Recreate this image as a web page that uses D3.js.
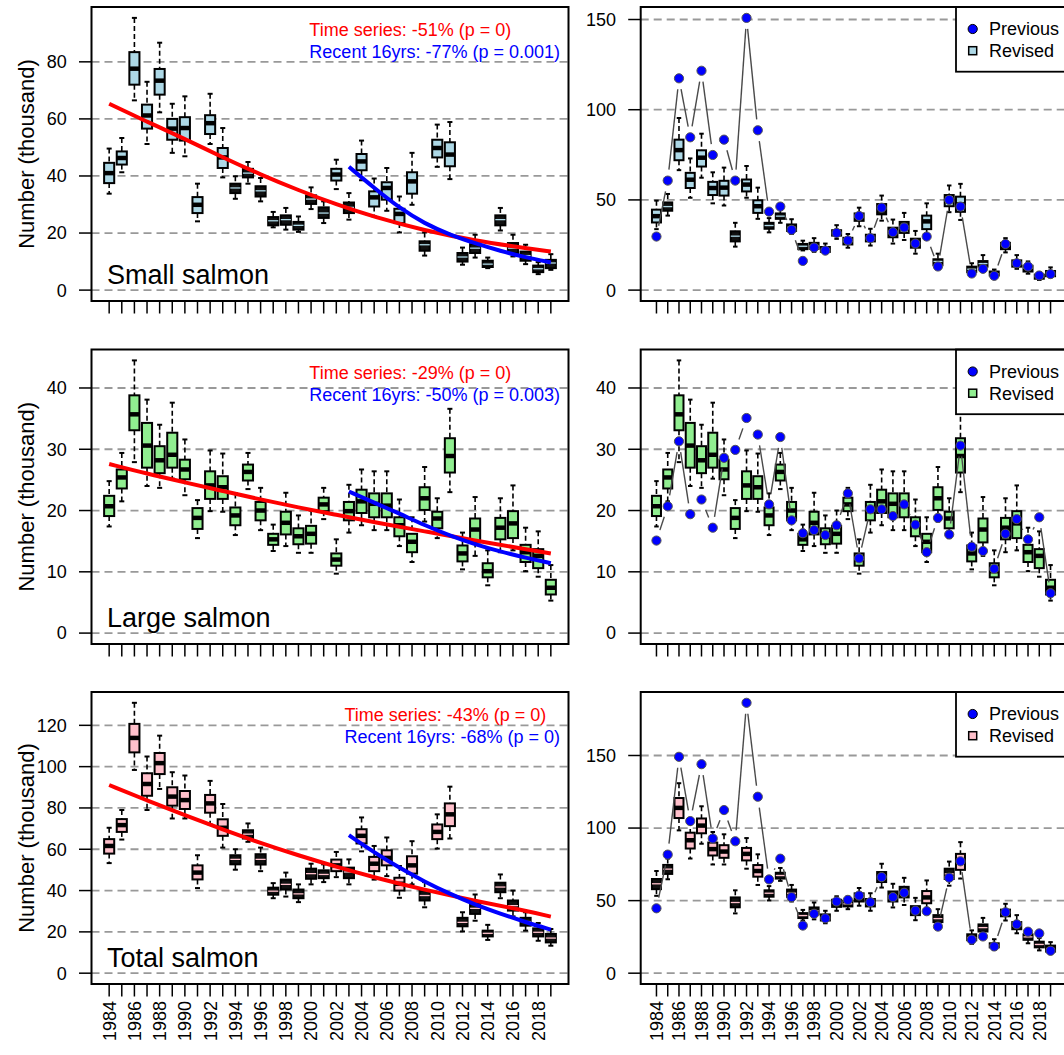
<!DOCTYPE html>
<html><head><meta charset="utf-8">
<script src="https://cdn.jsdelivr.net/npm/d3@7"></script>
<style>body{margin:0;background:#fff} text{font-family:"Liberation Sans",Arial,sans-serif}</style>
</head><body><svg id="c" width="1064" height="1055"></svg>
<script>
const years = [1984,1985,1986,1987,1988,1989,1990,1991,1992,1993,1994,1995,1996,1997,1998,1999,2000,2001,2002,2003,2004,2005,2006,2007,2008,2009,2010,2011,2012,2013,2014,2015,2016,2017,2018,2019];
const labelYears = [1984,1986,1988,1990,1992,1994,1996,1998,2000,2002,2004,2006,2008,2010,2012,2014,2016,2018];

// Small salmon
const smallLo  = [33.8,41.3,66.5,51.2,62.3,48.1,46.9,24.1,51.2,39.5,32.0,37.3,31.1,22.0,21.2,20.4,28.4,23.5,35.4,24.7,38.5,25.8,27.8,20.2,29.9,12.1,43.2,38.9,8.9,11.4,7.7,20.9,11.8,9.1,5.6,7.1];
const smallQ1  = [37.5,44.0,72.0,56.6,68.5,52.7,52.4,27.0,54.7,42.8,34.0,39.5,32.8,22.7,22.9,21.2,30.2,25.3,38.4,27.0,42.0,29.3,31.7,23.5,33.8,13.8,46.5,43.4,10.0,13.0,8.1,22.7,13.0,10.3,6.3,7.7];
const smallMed = [41.0,46.3,77.6,61.2,73.4,56.6,56.8,29.9,58.5,46.5,35.8,41.0,34.8,24.3,24.7,22.7,31.9,27.0,40.5,29.0,45.1,32.5,35.8,26.7,38.1,15.9,49.8,47.5,11.6,14.7,9.1,24.7,14.7,12.1,7.5,9.5];
const smallQ3  = [44.6,48.6,83.4,65.0,77.5,60.0,60.6,32.6,61.3,49.8,37.3,42.5,36.4,25.6,26.2,23.9,33.2,29.0,42.5,30.7,47.7,34.6,37.8,28.5,41.3,17.1,52.7,51.8,13.0,16.1,10.3,26.2,16.5,13.5,8.6,10.6];
const smallHi  = [49.6,53.3,95.4,73.0,86.7,65.3,67.9,37.3,68.8,56.8,39.9,44.9,39.3,27.4,28.8,25.8,36.0,31.1,45.7,34.0,52.4,39.1,42.8,32.8,48.1,20.2,58.0,58.9,14.9,19.4,11.4,28.8,19.4,15.9,9.8,12.6];
const smallPrev= [29.7,60.7,117.4,84.7,121.6,74.9,83.4,60.7,150.9,88.6,43.5,46.3,33.4,16.2,23.6,21.9,31.7,27.5,41.1,28.8,45.7,32.1,34.7,25.8,29.7,13.1,50.0,46.3,9.2,11.8,7.9,25.6,14.9,13.1,8.1,8.9];
const smallRedYears = [1984,1987,1990,1993,1996,1999,2002,2005,2009,2013,2017,2019];
const smallRedVals  = [65.3,59.0,53.0,46.5,40.5,35.0,30.0,25.6,20.9,17.3,14.7,13.5];
const smallBlueYears = [2003,2005,2007,2009,2011,2013,2015,2017,2019];
const smallBlueVals  = [43.2,35.8,28.8,23.3,19.4,16.4,13.7,11.5,9.7];
const smallTexts = ["Time series: -51% (p = 0)","Recent 16yrs: -77% (p = 0.001)"];
const smallTicksL = [0,20,40,60,80];
const smallTicksR = [0,50,100,150];

// Large salmon
const largeLo  = [17.4,21.5,27.9,24.0,23.7,25.2,22.5,15.5,19.9,19.8,16.0,23.5,16.8,13.4,14.2,13.1,13.1,18.6,9.7,16.4,17.6,16.8,16.8,14.2,11.6,18.2,15.5,23.0,10.4,12.6,7.8,13.2,13.5,10.1,9.2,5.3];
const largeQ1  = [19.1,23.6,33.1,27.0,26.1,27.0,25.1,17.0,21.9,21.9,17.6,24.9,18.4,14.4,16.1,14.5,14.6,19.9,11.0,18.4,19.6,18.9,18.9,15.8,13.2,20.1,17.1,26.2,11.7,14.8,9.1,15.3,15.5,11.6,10.6,6.3];
const largeMed = [20.7,25.4,35.7,30.6,28.2,29.1,26.7,18.8,24.1,23.8,19.2,26.3,20.0,15.3,18.0,15.8,16.2,21.0,12.0,19.9,21.5,21.1,20.8,17.6,14.9,22.0,18.7,28.9,13.0,16.9,10.1,17.2,17.9,13.2,12.6,7.4];
const largeQ3  = [22.4,26.7,38.8,34.3,30.5,32.7,28.3,20.4,26.4,25.6,20.5,27.5,21.4,16.2,19.8,17.1,17.5,22.1,13.0,21.4,23.4,22.8,22.8,18.9,16.2,23.8,19.8,31.8,14.3,18.7,11.4,18.8,19.9,14.4,13.7,8.7];
const largeHi  = [24.8,29.4,44.5,38.1,34.0,37.6,31.6,21.7,29.8,29.3,22.8,29.4,23.7,17.7,22.9,19.2,20.0,23.7,15.3,24.2,26.7,26.4,26.4,21.8,18.9,27.1,22.0,36.6,16.4,22.2,13.5,22.0,24.1,17.2,16.6,11.1];
const largePrev= [15.1,20.7,31.3,19.4,21.8,17.2,28.6,29.9,35.1,32.4,21.0,32.0,18.4,16.3,16.8,16.0,17.6,22.8,12.2,20.2,20.2,19.1,21.0,17.7,13.2,18.8,16.1,30.6,14.1,13.4,10.5,16.2,18.6,15.3,18.9,6.5];
const largeRedYears = [1984,1987,1990,1993,1996,1999,2002,2005,2009,2013,2017,2019];
const largeRedVals  = [27.6,26.0,24.6,23.2,21.8,20.5,19.3,18.1,16.6,15.1,13.7,13.0];
const largeBlueYears = [2003,2005,2007,2009,2011,2013,2015,2017,2019];
const largeBlueVals  = [23.1,21.3,19.5,17.6,15.9,14.5,13.3,12.3,11.4];
const largeTexts = ["Time series: -29% (p = 0)","Recent 16yrs: -50% (p = 0.003)"];
const largeTicksL = [0,10,20,30,40];
const largeTicksR = [0,10,20,30,40];

// Total salmon
const totalLo  = [53.3,64.7,98.4,79.0,89.2,74.9,74.9,41.2,72.0,60.8,50.1,63.6,49.4,36.3,37.1,34.4,43.0,44.1,46.5,43.0,59.0,45.3,47.0,36.5,43.0,31.9,60.3,65.2,20.2,25.4,16.1,36.3,27.5,20.6,15.7,13.3];
const totalQ1  = [57.9,68.4,106.9,85.9,96.4,81.1,79.5,45.4,77.7,66.5,52.7,65.2,52.6,38.0,40.5,36.3,45.7,46.0,49.4,46.0,62.8,49.4,52.2,40.0,48.2,35.2,64.9,71.2,22.7,28.7,17.8,39.2,30.3,23.0,17.8,14.9];
const totalMed = [61.6,71.7,113.9,91.6,101.7,85.5,83.8,48.7,82.2,70.4,55.1,67.3,55.1,39.7,43.0,38.4,48.2,47.8,52.2,49.0,66.5,53.0,55.8,43.3,52.2,37.6,68.4,76.9,24.6,31.4,19.3,41.7,32.7,25.0,19.8,17.0];
const totalQ3  = [64.9,74.6,120.7,96.8,106.6,90.0,88.2,52.2,86.3,74.5,57.1,69.2,57.6,41.4,45.3,40.5,50.6,49.8,55.0,51.1,69.7,56.3,59.5,46.2,56.6,40.0,72.0,82.2,26.8,33.6,20.6,43.8,35.2,26.8,21.7,19.0];
const totalHi  = [70.4,79.0,130.9,104.9,115.0,97.3,95.7,57.1,93.1,81.9,60.0,72.5,60.8,43.6,48.7,43.0,53.0,52.7,58.7,55.1,75.4,61.6,65.7,51.9,63.9,44.1,76.9,90.3,29.5,38.1,23.4,47.8,40.0,29.5,24.3,21.4];
const totalPrev= [44.7,81.7,149.1,104.8,144.0,92.8,112.4,90.9,186.3,121.6,64.6,78.9,52.4,32.8,40.9,37.8,49.4,50.5,53.5,48.9,66.2,52.4,55.4,43.1,42.7,32.1,65.8,77.1,23.1,25.3,18.4,42.0,33.7,28.6,27.4,15.4];
const totalRedYears = [1984,1987,1990,1993,1996,1999,2002,2005,2009,2013,2017,2019];
const totalRedVals  = [91.1,83.6,76.5,69.5,63.0,57.0,51.5,46.4,40.3,35.0,30.3,27.4];
const totalBlueYears = [2003,2005,2007,2009,2011,2013,2015,2017,2019];
const totalBlueVals  = [66.8,58.5,51.0,44.3,38.4,33.2,28.8,24.7,21.1];
const totalTexts = ["Time series: -43% (p = 0)","Recent 16yrs: -68% (p = 0)"];
const totalTicksL = [0,20,40,60,80,100,120];
const totalTicksR = [0,50,100,150];

const legendLabels = ["Previous","Revised"];
const yTitle = "Number (thousand)";

const rows = [
  {lo:smallLo,q1:smallQ1,med:smallMed,q3:smallQ3,hi:smallHi,prev:smallPrev,fill:"#ADD8E6",name:"Small salmon",
   red:[smallRedYears,smallRedVals],blue:[smallBlueYears,smallBlueVals],texts:smallTexts,tl:smallTicksL,tr:smallTicksR},
  {lo:largeLo,q1:largeQ1,med:largeMed,q3:largeQ3,hi:largeHi,prev:largePrev,fill:"#90EE90",name:"Large salmon",
   red:[largeRedYears,largeRedVals],blue:[largeBlueYears,largeBlueVals],texts:largeTexts,tl:largeTicksL,tr:largeTicksR},
  {lo:totalLo,q1:totalQ1,med:totalMed,q3:totalQ3,hi:totalHi,prev:totalPrev,fill:"#FFC0CB",name:"Total salmon",
   red:[totalRedYears,totalRedVals],blue:[totalBlueYears,totalBlueVals],texts:totalTexts,tl:totalTicksL,tr:totalTicksR}
];

const svg = d3.select("#c");
svg.append("rect").attr("width",1064).attr("height",1055).attr("fill","#fff");

const rowY = [[7,301],[349.5,644],[692,984]];
const colX = [[91.5,568.5],[640.7,1066.3]];
const FS = 18;

function drawBoxes(g, x, y, s, bw){
  const idx = years.map((d,i)=>i);
  const grp = g.selectAll("g.bx").data(idx).join("g").attr("class","bx");
  grp.each(function(i){
    const G = d3.select(this);
    const cx = x(years[i]);
    const yq1 = y(s.q1[i]), yq3 = y(s.q3[i]), yhi = y(s.hi[i]), ylo = y(s.lo[i]), ym = y(s.med[i]);
    const dark = (yq1 - yq3) < 11;
    G.append("line").attr("x1",cx).attr("x2",cx).attr("y1",yhi).attr("y2",yq3)
      .attr("stroke","#000").attr("stroke-width",1.6).attr("stroke-dasharray","5,3");
    G.append("line").attr("x1",cx).attr("x2",cx).attr("y1",yq1).attr("y2",ylo)
      .attr("stroke","#000").attr("stroke-width",1.6).attr("stroke-dasharray","5,3");
    [yhi,ylo].forEach(v=>G.append("line").attr("x1",cx-bw/4).attr("x2",cx+bw/4).attr("y1",v).attr("y2",v)
      .attr("stroke","#000").attr("stroke-width",2));
    G.append("rect").attr("x",cx-bw/2).attr("y",yq3).attr("width",bw).attr("height",yq1-yq3)
      .attr("fill",dark?"#111":s.fill).attr("stroke","#000").attr("stroke-width",2);
    G.append("line").attr("x1",cx-bw/2).attr("x2",cx+bw/2).attr("y1",ym).attr("y2",ym)
      .attr("stroke",dark?s.fill:"#000").attr("stroke-width",dark?1.3:4.5);
  });
}

rows.forEach((s,r)=>{
  const [top,bot] = rowY[r];
  [0,1].forEach(c=>{
    const [left,right] = colX[c];
    const g = svg.append("g");
    const x = d3.scaleLinear().domain([years[0]-1.4, years[years.length-1]+1.4]).range([left,right]);
    const M = c===0 ? d3.max(s.hi) : Math.max(d3.max(s.hi), d3.max(s.prev));
    const y = d3.scaleLinear().domain([-0.04*M, 1.04*M]).range([bot,top]);
    const ticks = c===0 ? s.tl : s.tr;
    g.selectAll("line.grid").data(ticks).join("line").attr("class","grid")
      .attr("x1",left).attr("x2",right).attr("y1",d=>y(d)).attr("y2",d=>y(d))
      .attr("stroke","#999").attr("stroke-width",1.8).attr("stroke-dasharray","8,5");
    g.selectAll("line.yt").data(ticks).join("line").attr("class","yt")
      .attr("x1",left-12.5).attr("x2",left).attr("y1",d=>y(d)).attr("y2",d=>y(d))
      .attr("stroke","#000").attr("stroke-width",1.5);
    g.selectAll("text.yl").data(ticks).join("text").attr("class","yl")
      .attr("x",left-24.7).attr("y",d=>y(d)+6.4).attr("text-anchor","end")
      .attr("font-size",FS).text(d=>d);
    g.selectAll("line.xt").data(years).join("line").attr("class","xt")
      .attr("x1",d=>x(d)).attr("x2",d=>x(d)).attr("y1",bot).attr("y2",bot+12.5)
      .attr("stroke","#000").attr("stroke-width",1.5);
    if(r===2){
      g.selectAll("text.xl").data(labelYears).join("text").attr("class","xl")
        .attr("transform",d=>`translate(${x(d)+6.4},${bot+17}) rotate(-90)`)
        .attr("text-anchor","end").attr("font-size",FS).text(d=>d);
    }
    const bw = 0.8*(x(1985)-x(1984));
    const bg = g.append("g");
    drawBoxes(bg, x, y, s, bw);

    if(c===0){
      const line = d3.line().x(d=>x(d[0])).y(d=>y(d[1])).curve(d3.curveBasis);
      g.append("path").attr("d",line(d3.zip(s.red[0],s.red[1]))).attr("fill","none")
        .attr("stroke","#FF0000").attr("stroke-width",4);
      g.append("path").attr("d",line(d3.zip(s.blue[0],s.blue[1]))).attr("fill","none")
        .attr("stroke","#0000FF").attr("stroke-width",4);
      const t1 = g.append("text").attr("y",top+29.4).attr("font-size",FS).attr("fill","#FF0000").text(s.texts[0]);
      const t2 = g.append("text").attr("y",top+51.1).attr("font-size",FS).attr("fill","#0000FF").text(s.texts[1]);
      const w = Math.max(t1.node().getComputedTextLength(), t2.node().getComputedTextLength());
      t1.attr("x",right-8.5-w); t2.attr("x",right-8.5-w);
      g.append("text").attr("x",left+15.5).attr("y",bot-17).attr("font-size",27).text(s.name);
      g.append("text").attr("transform",`translate(34,${(top+bot)/2}) rotate(-90)`)
        .attr("text-anchor","middle").attr("font-size",22).text(yTitle);
    } else {
      const pts = years.map((d,i)=>[x(d), y(s.prev[i])]);
      const gap = 11;
      const segs = [];
      for(let i=0;i<pts.length-1;i++){
        const [x1,y1]=pts[i],[x2,y2]=pts[i+1];
        const dx=x2-x1, dy=y2-y1, L=Math.hypot(dx,dy);
        if(L>2*gap+1){
          const ux=dx/L, uy=dy/L;
          segs.push([x1+ux*gap,y1+uy*gap,x2-ux*gap,y2-uy*gap]);
        }
      }
      g.selectAll("line.pl").data(segs).join("line").attr("class","pl")
        .attr("x1",d=>d[0]).attr("y1",d=>d[1]).attr("x2",d=>d[2]).attr("y2",d=>d[3])
        .attr("stroke","#4a4a4a").attr("stroke-width",1.4);
      g.selectAll("circle.pp").data(pts).join("circle").attr("class","pp")
        .attr("cx",d=>d[0]).attr("cy",d=>d[1]).attr("r",4.6)
        .attr("fill","#0000FF").attr("stroke","#555").attr("stroke-width",1);
      const lx = 956;
      g.append("rect").attr("x",lx).attr("y",top).attr("width",right-lx).attr("height",64.7)
        .attr("fill","#fff").attr("stroke","#000").attr("stroke-width",1.8);
      g.append("circle").attr("cx",lx+16.7).attr("cy",top+22).attr("r",4.6)
        .attr("fill","#0000FF").attr("stroke","#000").attr("stroke-width",1);
      g.append("rect").attr("x",lx+12.7).attr("y",top+39.7).attr("width",8).attr("height",8)
        .attr("fill",s.fill).attr("stroke","#000").attr("stroke-width",1.5);
      g.append("text").attr("x",lx+33).attr("y",top+28.4).attr("font-size",FS).text(legendLabels[0]);
      g.append("text").attr("x",lx+33).attr("y",top+50.1).attr("font-size",FS).text(legendLabels[1]);
    }
    g.append("rect").attr("x",left).attr("y",top).attr("width",right-left).attr("height",bot-top)
      .attr("fill","none").attr("stroke","#000").attr("stroke-width",2);
  });
});
</script></body></html>
